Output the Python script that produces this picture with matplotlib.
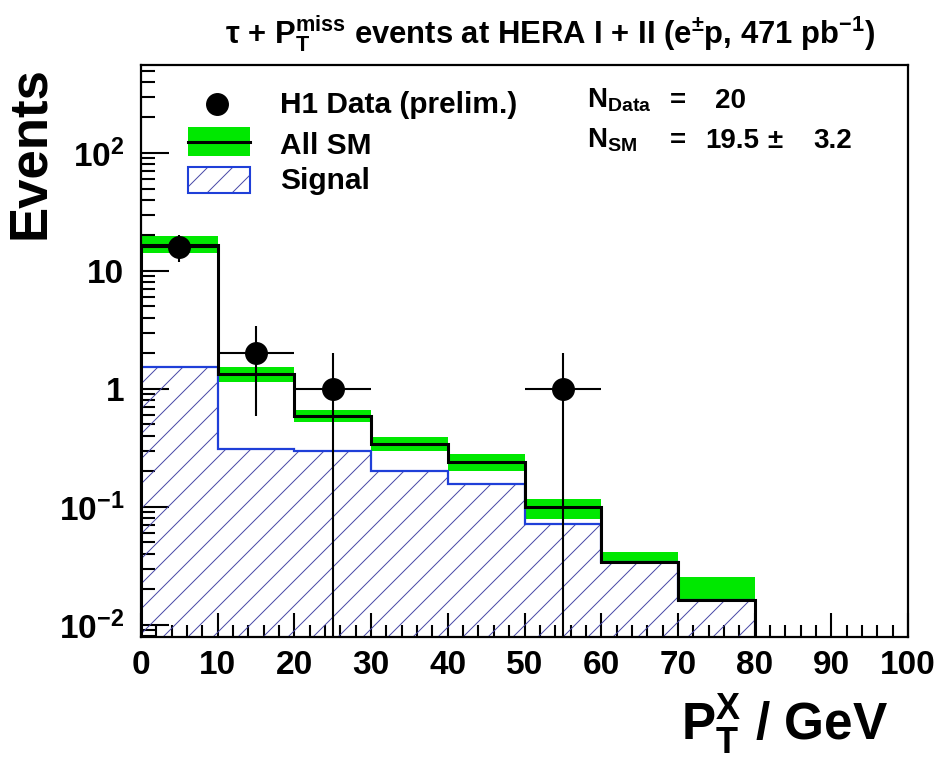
import numpy as np
import matplotlib
matplotlib.use("Agg")
import matplotlib.pyplot as plt
from matplotlib.patches import Rectangle
from matplotlib.lines import Line2D
from matplotlib.ticker import FixedLocator, LogLocator, NullFormatter, FixedFormatter, MultipleLocator
from matplotlib.backend_bases import GraphicsContextBase

# ---------------- data ----------------
bin_edges = [0, 10, 20, 30, 40, 50, 60, 70, 80]
sm_values = [16.6, 1.34, 0.594, 0.342, 0.242, 0.0993, 0.034, 0.0163]
sm_err_hi = [19.8, 1.55, 0.664, 0.394, 0.280, 0.117, 0.0418, 0.0257]
sm_err_lo = [14.2, 1.14, 0.529, 0.298, 0.203, 0.079, 0.034, 0.0163]
signal_values = [1.55, 0.308, 0.298, 0.20, 0.156, 0.0718, 0.034, 0.0163]

data_x = [5, 15, 25, 55]
data_y = [16, 2, 1, 1]
data_xerr = [5, 5, 5, 5]
data_yerr = [4.0, 1.41, 1.0, 1.0]

y_ticks = [0.01, 0.1, 1, 10, 100]
y_ticklabels = ["$10^{-2}$", "$10^{-1}$", "1", "10", "$10^{2}$"]
x_ticks = [0, 10, 20, 30, 40, 50, 60, 70, 80, 90, 100]

n_data_text = "20"
n_sm_value = "19.5"
n_sm_error = "3.2"

# ---------------- style ----------------
# single-slash hatch with 8 lines per cell (spacing ~12 px)
_orig_hatch_path = GraphicsContextBase.get_hatch_path
def _hatch_path(self, density=8.0):
    return _orig_hatch_path(self, density)
GraphicsContextBase.get_hatch_path = _hatch_path

plt.rcParams['font.family'] = ['Liberation Sans', 'DejaVu Sans']
plt.rcParams['font.weight'] = 'bold'
plt.rcParams['mathtext.fontset'] = 'custom'
plt.rcParams['mathtext.rm'] = 'Liberation Sans:bold'
plt.rcParams['mathtext.it'] = 'Liberation Sans:bold'
plt.rcParams['mathtext.bf'] = 'Liberation Sans:bold'
plt.rcParams['mathtext.sf'] = 'Liberation Sans:bold'
plt.rcParams['mathtext.default'] = 'rm'
plt.rcParams['hatch.linewidth'] = 0.7

GREEN = '#00e800'
BLUE = '#1f3fd8'
HATCH = '#4646a6'

W, H = 938, 760
fig = plt.figure(figsize=(W / 100, H / 100), dpi=100)

def fx(x):
    return x / W

def fy(y):
    return 1 - y / H

ax = fig.add_axes([fx(141), fy(637), fx(908) - fx(141), fy(65) - fy(637)])
ax.set_yscale('log')
ax.set_xlim(0, 100)
ax.set_ylim(0.0079, 557)

edges = np.array(bin_edges, dtype=float)
centers = 0.5 * (edges[:-1] + edges[1:])
widths = np.diff(edges)
hi = np.array(sm_err_hi)
lo = np.array(sm_err_lo)

# SM uncertainty band
ax.bar(centers, hi - lo, bottom=lo, width=widths, color=GREEN, linewidth=0, zorder=1)

# signal hatched
base = 1e-4
ax.stairs(signal_values, edges, baseline=base, fill=True, facecolor='none',
          edgecolor=HATCH, hatch='/', linewidth=0, zorder=2)
ax.stairs(signal_values, edges, baseline=None, color=BLUE, linewidth=1.6, zorder=3)

# SM line
ax.stairs(sm_values, edges, baseline=base, color='black', linewidth=2.2, zorder=4)

# data
ax.errorbar(data_x, data_y, xerr=data_xerr, yerr=data_yerr, fmt='o', color='black',
            markersize=15.5, elinewidth=1.5, capsize=0, zorder=5)

# axes style
for s in ax.spines.values():
    s.set_linewidth(1.6)
ax.xaxis.set_major_locator(FixedLocator(x_ticks))
ax.xaxis.set_minor_locator(MultipleLocator(2))
ax.yaxis.set_major_locator(FixedLocator(y_ticks))
ax.yaxis.set_major_formatter(FixedFormatter(y_ticklabels))
ax.yaxis.set_minor_locator(LogLocator(base=10, subs=np.arange(2, 10) * 1.0, numticks=20))
ax.yaxis.set_minor_formatter(NullFormatter())
ax.tick_params(axis='both', which='both', direction='in', width=1.5, top=False, right=False)
ax.tick_params(axis='x', which='major', length=17, pad=9, labelsize=24)
ax.tick_params(axis='x', which='minor', length=9)
ax.tick_params(axis='y', which='major', length=20, pad=12, labelsize=24)
ax.tick_params(axis='y', which='minor', length=10)
for lab in ax.get_xticklabels() + ax.get_yticklabels():
    lab.set_fontweight('bold')

# title
fig.text(fx(550), fy(43), r"τ + P$_{T}^{miss}$ events at HERA I + II (e$^{\pm}$p, 471 pb$^{-1}$)",
         ha='center', va='baseline', fontsize=22.3, fontweight='bold')

# axis labels
fig.text(fx(55), fy(153), "Events", rotation=90, ha='right', va='center',
         fontsize=38, fontweight='bold')
fig.text(fx(888), fy(740), r"P$_{T}^{X}$ / GeV", ha='right', va='baseline',
         fontsize=37, fontweight='bold')

# legend (manual)
LFS = 21.5
fig.add_artist(Line2D([fx(217)], [fy(104)], marker='o', color='black', markersize=15.5,
                      transform=fig.transFigure))
fig.text(fx(280), fy(113), "H1 Data (prelim.)", ha='left', va='baseline', fontsize=LFS, fontweight='bold')
fig.add_artist(Rectangle((fx(188), fy(156)), fx(250) - fx(188), fy(127) - fy(156),
                         transform=fig.transFigure, facecolor=GREEN, edgecolor='none'))
fig.add_artist(Line2D([fx(188), fx(250)], [fy(141.5), fy(141.5)], color='black', linewidth=2.2,
                      transform=fig.transFigure))
fig.text(fx(280), fy(154), "All SM", ha='left', va='baseline', fontsize=LFS, fontweight='bold')
fig.add_artist(Rectangle((fx(188), fy(193)), fx(250) - fx(188), fy(167) - fy(193),
                         transform=fig.transFigure, facecolor='none', edgecolor=HATCH,
                         hatch='/', linewidth=0))
fig.add_artist(Rectangle((fx(188), fy(193)), fx(250) - fx(188), fy(167) - fy(193),
                         transform=fig.transFigure, facecolor='none', edgecolor=BLUE,
                         linewidth=1.5))
fig.text(fx(280), fy(189), "Signal", ha='left', va='baseline', fontsize=LFS, fontweight='bold')

# counts
NFS = 20
fig.text(fx(587), fy(108), r"N$_{Data}$", ha='left', va='baseline', fontsize=NFS, fontweight='bold')
fig.text(fx(670), fy(108), "=", ha='left', va='baseline', fontsize=NFS, fontweight='bold')
fig.text(fx(715), fy(108), n_data_text, ha='left', va='baseline', fontsize=NFS, fontweight='bold')
fig.text(fx(587), fy(148), r"N$_{SM}$", ha='left', va='baseline', fontsize=NFS, fontweight='bold')
fig.text(fx(670), fy(148), "=", ha='left', va='baseline', fontsize=NFS, fontweight='bold')
fig.text(fx(759), fy(148), n_sm_value, ha='right', va='baseline', fontsize=NFS, fontweight='bold')
fig.text(fx(775), fy(148), "±", ha='center', va='baseline', fontsize=NFS, fontweight='bold')
fig.text(fx(852), fy(148), n_sm_error, ha='right', va='baseline', fontsize=NFS, fontweight='bold')

fig.savefig("out.png", dpi=100)
